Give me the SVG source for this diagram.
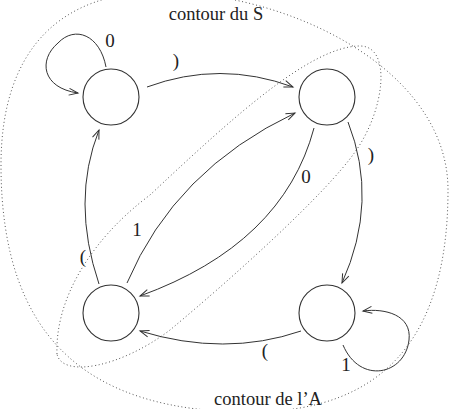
<svg xmlns="http://www.w3.org/2000/svg" width="450" height="409" viewBox="0 0 450 409">
<style>
  .node { fill: none; stroke: #333; stroke-width: 1.1; }
  .edge { fill: none; stroke: #333; stroke-width: 1; marker-end: url(#arr); }
  .contour { fill: none; stroke: #555; stroke-width: 1; stroke-dasharray: 1 2.6; }
  .lbl { font-family: "Liberation Serif", "DejaVu Serif", serif; font-size: 19px; fill: #222; text-anchor: middle; }
  .title { font-family: "Liberation Serif", "DejaVu Serif", serif; font-size: 18.5px; fill: #222; text-anchor: middle; }
</style>
<defs>
  <marker id="arr" markerWidth="12" markerHeight="10" refX="10" refY="5" orient="auto" markerUnits="userSpaceOnUse">
    <path d="M1,1.6 L10,5 L1,8.4" fill="none" stroke="#333" stroke-width="1"/>
  </marker>
</defs>
<rect width="450" height="409" fill="#fff"/>
<g id="contours">
  <path id="contour-S" class="contour" d="M160,-8 C290,-8 448,70 448,190 C448,330 390,412 250,412 C90,412 1,340 1,165 C1,50 60,-8 160,-8 Z"/>
  <path id="contour-A" class="contour" d="M57,354 C55,300 90,240 150,195 C230,120 310,46 360,46 C392,46 385,110 355,152 C325,195 230,280 170,330 C120,368 62,378 57,354 Z"/>
  <text class="title" x="216" y="20">contour du S</text>
  <text class="title" x="268" y="405">contour de l’A</text>
</g>
<g id="n1"><circle class="node" cx="111" cy="97" r="28"/></g>
<g id="n2"><circle class="node" cx="327" cy="97" r="28"/></g>
<g id="n3"><circle class="node" cx="111" cy="313" r="28"/></g>
<g id="n4"><circle class="node" cx="327" cy="313" r="28"/></g>
<g id="connectors">
  <path class="edge" d="M106,67 C100,35 75,25 58,43 C38,60 42,88 78,93"/>
  <path class="edge" d="M147,87 Q220,60 293,87"/>
  <path class="edge" d="M127,283 Q175,170 295,113"/>
  <path class="edge" d="M314,128 Q283,244 140,296"/>
  <path class="edge" d="M348,122 Q379,201 342,283"/>
  <path class="edge" d="M301,331 Q225,357 140,331"/>
  <path class="edge" d="M99,284 Q71,201 99,130"/>
  <path class="edge" d="M343,345 C360,385 405,375 409,340 C412,315 385,308 363,311"/>
  <text class="lbl" x="110" y="47">0</text>
  <text class="lbl" x="176" y="67">)</text>
  <text class="lbl" x="306" y="183">0</text>
  <text class="lbl" x="371" y="161">)</text>
  <text class="lbl" x="137" y="236">1</text>
  <text class="lbl" x="83" y="263">(</text>
  <text class="lbl" x="265" y="357">(</text>
  <text class="lbl" x="346" y="371">1</text>
</g>
</svg>
